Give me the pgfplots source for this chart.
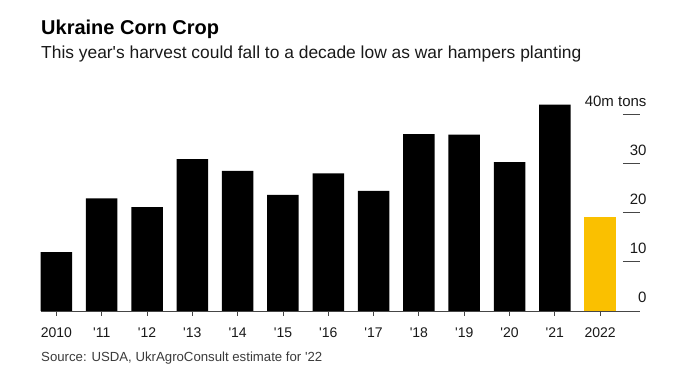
\documentclass[border=0pt]{standalone}
\usepackage{pgfplots}
\pgfplotsset{compat=1.18}
\usepackage{fontspec}
\setmainfont[Ligatures=TeXOff]{Liberation Sans}
\definecolor{barY}{RGB}{250,192,0}
\definecolor{dashgray}{RGB}{70,70,70}
\definecolor{txt}{RGB}{25,25,25}
\begin{document}
\begin{tikzpicture}
\path[use as bounding box] (-41pt,-66pt) rectangle (638pt,311pt);
\begin{axis}[at={(0,0)}, anchor=south west, scale only axis,
  width=599pt, height=215.6pt,
  xmin=-0.34, xmax=12.88, ymin=0, ymax=44,
  separate axis lines,
  axis x line*=bottom, axis y line*=right,
  y axis line style={draw=none},
  x axis line style={draw=dashgray, line width=0.8pt},
  xtick={0,...,12},
  xticklabels={2010,'11,'12,'13,'14,'15,'16,'17,'18,'19,'20,'21,2022},
  xtick style={draw=dashgray, line width=0.8pt},
  tick align=outside, major tick length=5pt,
  xticklabel style={font=\fontsize{14}{16}\selectfont, text=txt, anchor=base, inner sep=0pt, yshift=-21.5pt},
  ytick={0,10,20,30,40},
  yticklabels={0,10,20,30,40m tons},
  ytick style={draw=none},
  yticklabel style={font=\fontsize{15}{17}\selectfont, text=txt, anchor=base east, inner sep=0pt, xshift=1.7pt, yshift=8.5pt},
  /pgf/number format/assume math mode=true,
  ybar, bar width=31.5pt, bar shift=0pt,
  clip=false,
]
\addplot[fill=black, draw=none] coordinates {
(0,12.0) (1,23.0) (2,21.2) (3,31.0) (4,28.6) (5,23.7) (6,28.1) (7,24.5) (8,36.1) (9,36.0) (10,30.4) (11,42.1)
};
\addplot[fill=barY, draw=none] coordinates {(12,19.2)};
\foreach \y in {10,20,30,40} {
  \edef\tmp{\noexpand\draw[dashgray, line width=1pt] (axis cs:12.5,\y) -- (axis cs:12.88,\y);}
  \tmp
}
\end{axis}
\node[anchor=base west, inner sep=0pt, text=black, font=\bfseries\fontsize{20}{22}\selectfont] at (0pt,276pt) {Ukraine Corn Crop};
\node[anchor=base west, inner sep=0pt, text=txt, font=\fontsize{17.4}{20}\selectfont] at (0pt,252.7pt) {This year's harvest could fall to a decade low as war hampers planting};
\node[anchor=base west, inner sep=0pt, text=txt!85!white, font=\fontsize{13.2}{15}\selectfont] at (0pt,-50.7pt) {Source: USDA, UkrAgroConsult estimate for '22};
\end{tikzpicture}
\end{document}
